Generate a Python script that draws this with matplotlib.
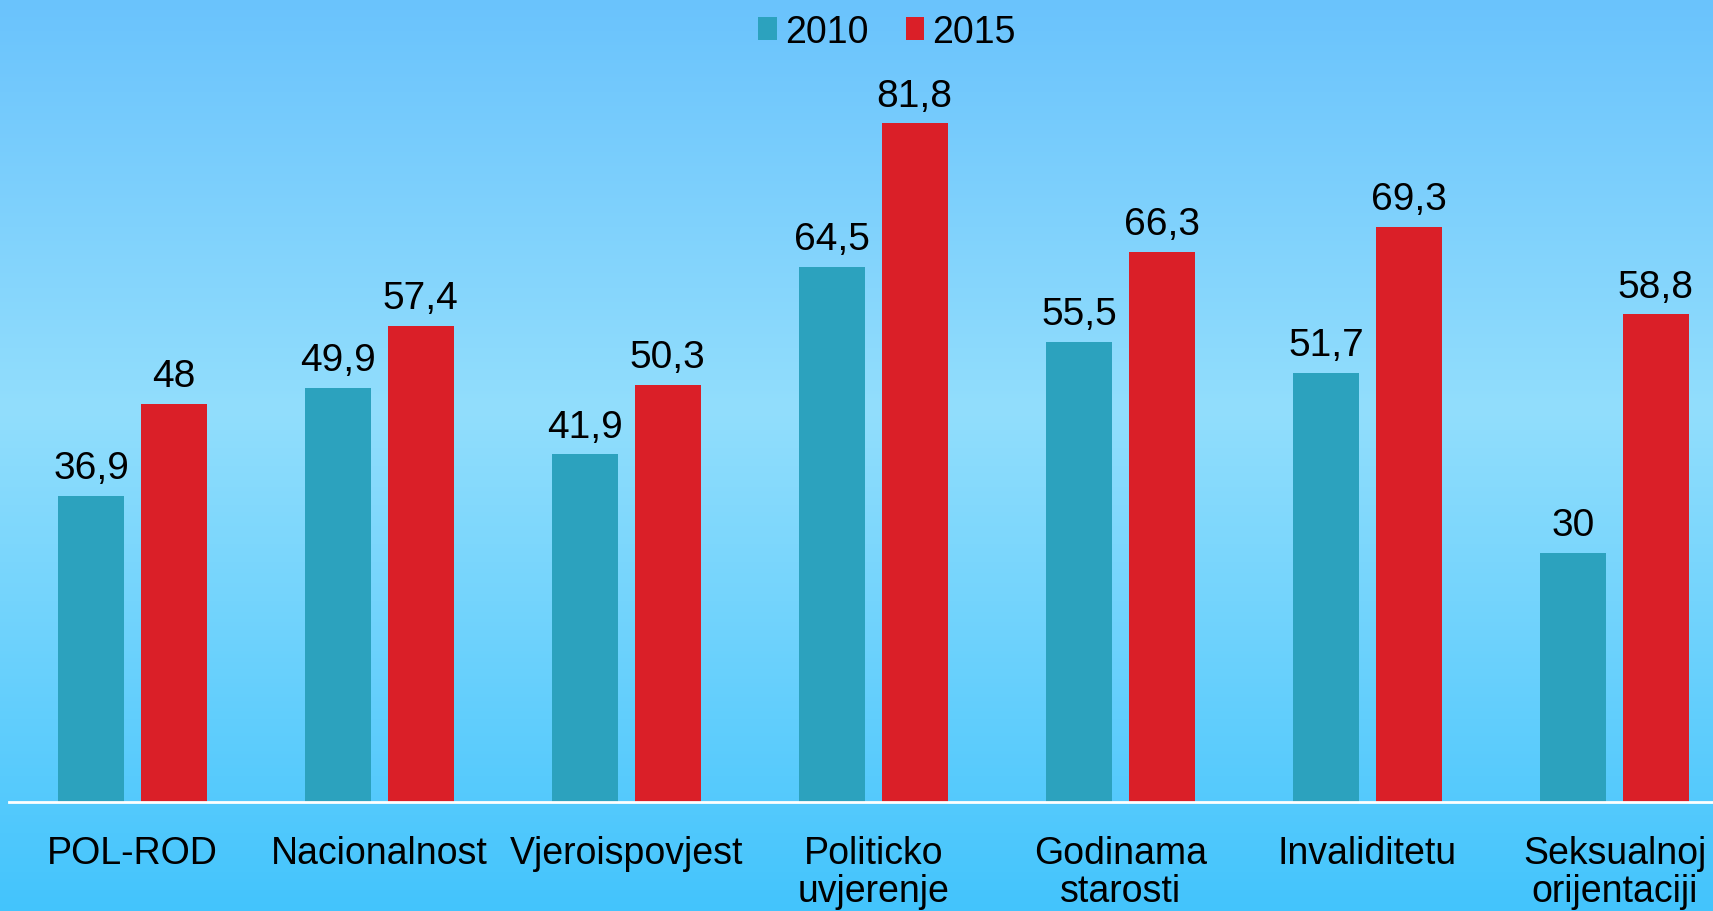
import numpy as np
import matplotlib.pyplot as plt
from matplotlib.colors import LinearSegmentedColormap

plt.rcParams['font.family'] = ['Liberation Sans', 'DejaVu Sans']

categories = ['POL-ROD', 'Nacionalnost', 'Vjeroispovjest', 'Politicko\nuvjerenje',
              'Godinama\nstarosti', 'Invaliditetu', 'Seksualnoj\norijentaciji']
vals_2010 = [36.9, 49.9, 41.9, 64.5, 55.5, 51.7, 30]
vals_2015 = [48, 57.4, 50.3, 81.8, 66.3, 69.3, 58.8]

teal = '#2ca2be'
red = '#da1f28'

fig = plt.figure(figsize=(17.13, 9.12), dpi=100)

# gradient background
bg = fig.add_axes([0, 0, 1, 1])
cmap = LinearSegmentedColormap.from_list('bg', [(0, '#6ac3fc'), (0.45, '#92defd'), (1, '#43c4fc')])
grad = np.linspace(0, 1, 256).reshape(-1, 1)
bg.imshow(grad, aspect='auto', cmap=cmap, extent=[0, 1, 0, 1], origin='upper')
bg.axis('off')

# axes: left at 9px, baseline at 803px from top, category width 247px
W, H = 1713, 912
ax = fig.add_axes([9 / W, (H - 803) / H, (W - 9) / W, 803 / H])
ax.patch.set_alpha(0)
x = np.arange(len(categories))
bw = 0.267
off = 0.167
b1 = ax.bar(x - off, vals_2010, bw, color=teal, label='2010')
b2 = ax.bar(x + off, vals_2015, bw, color=red, label='2015')

for bars, vals in ((b1, vals_2010), (b2, vals_2015)):
    for b, v in zip(bars, vals):
        ax.annotate(f'{v:g}'.replace('.', ','), (b.get_x() + b.get_width() / 2, v),
                    xytext=(0, 7), textcoords='offset points',
                    ha='center', va='bottom', fontsize=28)

ax.set_xlim(-0.5, -0.5 + (W - 9) / 247)
ax.set_ylim(0, 803 / 8.295)
ax.set_xticks(x)
ax.set_xticklabels(categories, fontsize=27, linespacing=1.05)
ax.tick_params(axis='x', length=0, pad=24)
ax.set_yticks([])
for s in ['top', 'right', 'left']:
    ax.spines[s].set_visible(False)
ax.spines['bottom'].set_color('white')
ax.spines['bottom'].set_linewidth(2)

fig.legend(handles=[b1, b2], labels=['2010', '2015'], loc='center',
           bbox_to_anchor=(887 / W, 1 - 33 / H), ncol=2, frameon=False,
           fontsize=27, handlelength=0.5, handleheight=0.55,
           handletextpad=0.2, columnspacing=1.0)

fig.savefig('out.png', dpi=100)
